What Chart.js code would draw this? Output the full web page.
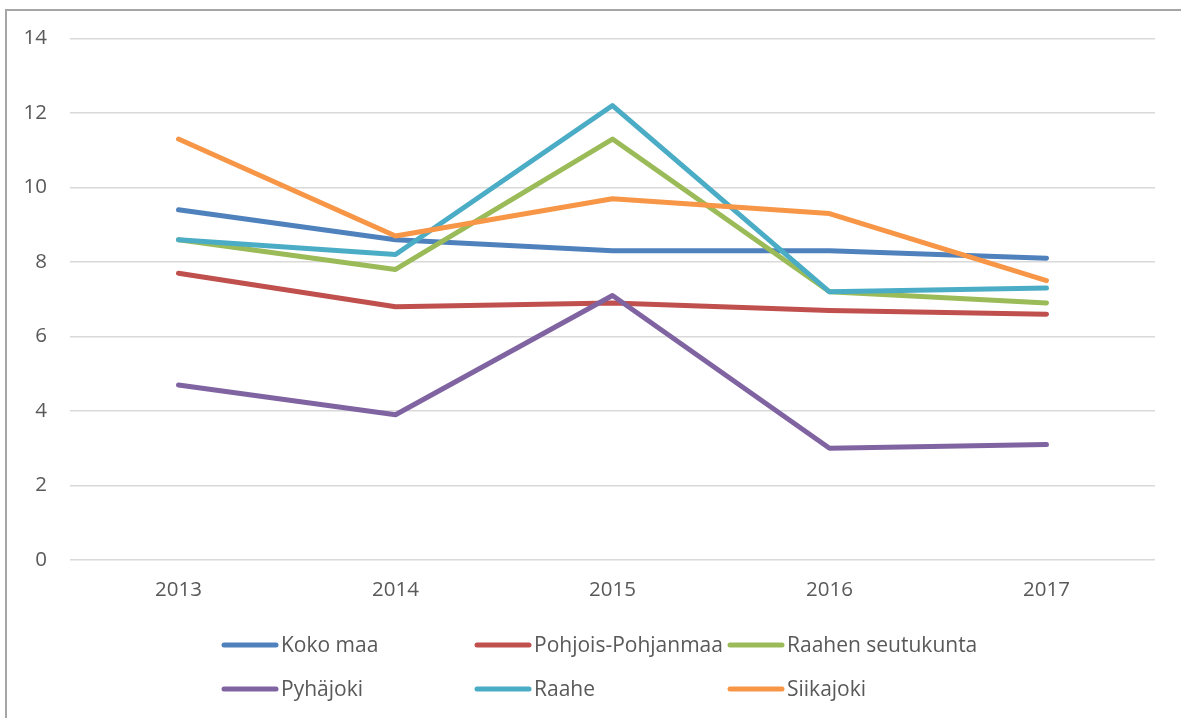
<!DOCTYPE html>
<html>
<head>
<meta charset="utf-8">
<script src="https://cdn.jsdelivr.net/npm/chart.js@4.4.1/dist/chart.umd.min.js"></script>
<style>
  html, body { margin: 0; padding: 0; background: #fff; overflow: hidden; }
  #wrap { position: relative; width: 1181px; height: 718px; }
  #frame { position: absolute; left: 5px; top: 9px; width: 1200px; height: 720px;
           border-left: 2px solid #a6a6a6; border-top: 2px solid #a6a6a6; }
  canvas { position: absolute; left: 0; top: 0; }
</style>
</head>
<body>
<div id="wrap">
  <div id="frame"></div>
  <canvas id="chart" width="1181" height="718"></canvas>
</div>
<script>
/* Line chart: six areas, 2013-2017 */

var years = ['2013', '2014', '2015', '2016', '2017'];
var kokoMaa          = [9.4, 8.6, 8.3, 8.3, 8.1];
var pohjoisPohjanmaa = [7.7, 6.8, 6.9, 6.7, 6.6];
var raahenSeutukunta = [8.6, 7.8, 11.3, 7.2, 6.9];
var pyhajoki         = [4.7, 3.9, 7.1, 3.0, 3.1];
var raahe            = [8.6, 8.2, 12.2, 7.2, 7.3];
var siikajoki        = [11.3, 8.7, 9.7, 9.3, 7.5];

var seriesNames = ['Koko maa', 'Pohjois-Pohjanmaa', 'Raahen seutukunta', 'Pyhäjoki', 'Raahe', 'Siikajoki'];
var seriesValues = [kokoMaa, pohjoisPohjanmaa, raahenSeutukunta, pyhajoki, raahe, siikajoki];
var seriesColors = ['#4f81bd', '#c0504d', '#9bbb59', '#8064a2', '#4bacc6', '#f79646'];

var FONT = "'Open Sans', sans-serif";
var TEXT = '#595959';

Chart.defaults.font.family = FONT;
Chart.defaults.font.size = 20.5;
Chart.defaults.color = TEXT;

/* ---------- Legend: three columns, two rows under the plot ---------- */
var gridLegend = {
  id: 'gridLegend',
  afterDraw: function (chart) {
    var ctx = chart.ctx;
    var cols = [222, 475, 728], rows = [645, 689];
    ctx.save();
    ctx.font = '21px ' + FONT;
    ctx.textBaseline = 'middle';
    ctx.textAlign = 'left';
    chart.data.datasets.forEach(function (ds, i) {
      var x = cols[i % 3], y = rows[Math.floor(i / 3)];
      ctx.beginPath();
      ctx.moveTo(x + 2, y);
      ctx.lineTo(x + 54, y);
      ctx.strokeStyle = ds.borderColor;
      ctx.lineWidth = 5;
      ctx.lineCap = 'round';
      ctx.stroke();
      ctx.fillStyle = TEXT;
      ctx.fillText(ds.label, x + 59, y + 1);
    });
    ctx.restore();
  }
};

var datasets = seriesNames.map(function (name, i) {
  return {
    label: name,
    data: seriesValues[i],
    borderColor: seriesColors[i],
    backgroundColor: seriesColors[i],
    borderWidth: 5,
    borderCapStyle: 'round',
    borderJoinStyle: 'round',
    pointRadius: 0,
    tension: 0,
    order: seriesNames.length - i   // later series drawn on top, like the original
  };
});

new Chart(document.getElementById('chart'), {
  type: 'line',
  data: { labels: years, datasets: datasets },
  plugins: [gridLegend],
  options: {
    responsive: false,
    animation: false,
    layout: { padding: { left: 0, top: 38.5, right: 26, bottom: 0 } },
    plugins: { legend: { display: false }, tooltip: { enabled: false } },
    scales: {
      x: {
        offset: true,
        grid: { display: false, drawTicks: false },
        border: { display: false },
        ticks: { padding: 18, color: TEXT, font: { size: 20.5 } },
        afterFit: function (scale) { scale.height = 158; }
      },
      y: {
        min: 0, max: 14,
        grid: { color: '#d9d9d9', lineWidth: 1.5, drawTicks: false },
        border: { display: false },
        ticks: { stepSize: 2, padding: 23, color: TEXT, font: { size: 20.5 } },
        afterFit: function (scale) { scale.width = 70; }
      }
    }
  }
});
</script>
</body>
</html>
